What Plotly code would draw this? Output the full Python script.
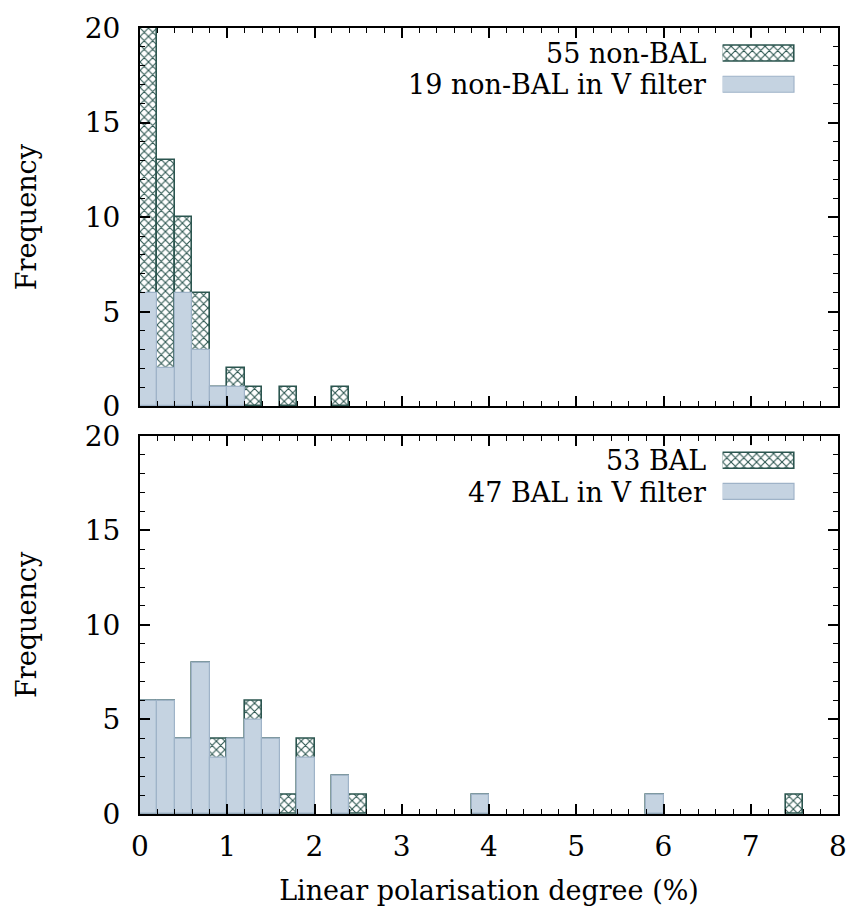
import plotly.graph_objects as go

# Histogram bins: lower edge of each 0.2 %-wide bin of linear polarisation degree
bin_width = 0.2

nonbal_edges = [0.0, 0.2, 0.4, 0.6, 0.8, 1.0, 1.2, 1.6, 2.2]
nonbal_all = [20, 13, 10, 6, 1, 2, 1, 1, 1]
nonbal_v = [6, 2, 6, 3, 1, 1, 0, 0, 0]

bal_edges = [0.0, 0.2, 0.4, 0.6, 0.8, 1.0, 1.2, 1.4, 1.6, 1.8, 2.2, 2.4, 3.8, 5.8, 7.4]
bal_all = [6, 6, 4, 8, 4, 4, 6, 4, 1, 4, 2, 1, 1, 1, 1]
bal_v = [6, 6, 4, 8, 3, 4, 5, 4, 0, 3, 2, 0, 1, 1, 0]

x_tick_vals = [0, 1, 2, 3, 4, 5, 6, 7, 8]
y_tick_vals = [0, 5, 10, 15, 20]

FONT = "DejaVu Serif"
FS = 27
TICK_FS = 28
HATCH = "#2b554f"
BLUE_FILL = "#c5d3e1"
BLUE_EDGE = "#9fb3c8"


def nonzero(edges, counts):
    pairs = [(e, c) for e, c in zip(edges, counts) if c > 0]
    return [p[0] for p in pairs], [p[1] for p in pairs]


def hatched_bar(x, y, xa, ya, orientation="v", width=bin_width, offset=0):
    return go.Bar(
        x=x, y=y, xaxis=xa, yaxis=ya, orientation=orientation,
        width=width, offset=offset, showlegend=False, hoverinfo="skip",
        marker=dict(
            color="white",
            line=dict(color=HATCH, width=1.6),
            pattern=dict(shape="x", fgcolor=HATCH, bgcolor="white",
                         size=6, solidity=0.32, fillmode="replace"),
        ),
    )


def blue_bar(x, y, xa, ya, orientation="v", width=bin_width, offset=0):
    return go.Bar(
        x=x, y=y, xaxis=xa, yaxis=ya, orientation=orientation,
        width=width, offset=offset, showlegend=False, hoverinfo="skip",
        marker=dict(color=BLUE_FILL, line=dict(color=BLUE_EDGE, width=1.2)),
    )


fig = go.Figure()

# Upper panel: non-BAL quasars
xe, yc = nonzero(nonbal_edges, nonbal_all)
fig.add_trace(hatched_bar(xe, yc, "x", "y"))
xe, yc = nonzero(nonbal_edges, nonbal_v)
fig.add_trace(blue_bar(xe, yc, "x", "y"))

# Lower panel: BAL quasars
xe, yc = nonzero(bal_edges, bal_all)
fig.add_trace(hatched_bar(xe, yc, "x2", "y2"))
xe, yc = nonzero(bal_edges, bal_v)
fig.add_trace(blue_bar(xe, yc, "x2", "y2"))

# Legend keys (text on the left, wide swatch on the right)
for xa, ya in (("x3", "y3"), ("x4", "y4")):
    fig.add_trace(hatched_bar([1], [0], xa, ya, orientation="h", width=0.5, offset=-0.25))
    fig.add_trace(blue_bar([1], [1], xa, ya, orientation="h", width=0.5, offset=-0.25))

common_x = dict(
    range=[0, 8], tickvals=x_tick_vals, ticks="inside", ticklen=10, tickwidth=1.5,
    tickcolor="black", showline=True, linecolor="black", linewidth=2,
    mirror="ticks", showgrid=False, zeroline=False,
    minor=dict(dtick=0.2, ticks="inside", ticklen=5, tickwidth=1.2, tickcolor="black"),
    tickfont=dict(family=FONT, size=TICK_FS, color="black"),
)
common_y = dict(
    range=[0, 20], tickvals=y_tick_vals, ticks="inside", ticklen=10, tickwidth=1.5,
    tickcolor="black", showline=True, linecolor="black", linewidth=2,
    mirror="ticks", showgrid=False, zeroline=False,
    minor=dict(dtick=1, ticks="inside", ticklen=5, tickwidth=1.2, tickcolor="black"),
    tickfont=dict(family=FONT, size=TICK_FS, color="black"),
    ticklabelstandoff=12,
    title=dict(text="Frequency", font=dict(family=FONT, size=FS, color="black"), standoff=40),
)

top_dom = [0.51875, 1.0]
bot_dom = [0.0, 0.48125]

hidden = dict(visible=False, showgrid=False, zeroline=False, fixedrange=True)
key_x = [717 / 859, 806 / 859]

fig.update_layout(
    width=859, height=913,
    margin=dict(l=140, r=17, t=18, b=95),
    paper_bgcolor="white", plot_bgcolor="white",
    barmode="overlay", bargap=0,
    font=dict(family=FONT, size=FS, color="black"),
    xaxis=dict(common_x, domain=[0, 1], anchor="y", showticklabels=False),
    yaxis=dict(common_y, domain=top_dom, anchor="x"),
    xaxis2=dict(common_x, domain=[0, 1], anchor="y2", ticklabelstandoff=6,
                title=dict(text="Linear polarisation degree (%)",
                           font=dict(family=FONT, size=FS, color="black"), standoff=20)),
    yaxis2=dict(common_y, domain=bot_dom, anchor="x2"),
    xaxis3=dict(hidden, domain=key_x, range=[0, 1], anchor="y3"),
    yaxis3=dict(hidden, domain=[(818 - 92) / 800, (818 - 28) / 800], range=[1.5, -0.5], anchor="x3"),
    xaxis4=dict(hidden, domain=key_x, range=[0, 1], anchor="y4"),
    yaxis4=dict(hidden, domain=[(818 - 506.5) / 800, (818 - 442.5) / 800], range=[1.5, -0.5], anchor="x4"),
    showlegend=False,
)

labels = [
    (f"{sum(nonbal_all)} non-BAL", 44),
    (f"{sum(nonbal_v)} non-BAL in V filter", 76),
    (f"{sum(bal_all)} BAL", 458.5),
    (f"{sum(bal_v)} BAL in V filter", 490.5),
]
for text, ypix in labels:
    fig.add_annotation(
        text=text, xref="paper", yref="paper", x=699 / 859,
        y=(818 - ypix) / 800, xanchor="right", yanchor="middle", showarrow=False,
        font=dict(family=FONT, size=FS, color="black"),
    )

fig.write_html("out.html")
